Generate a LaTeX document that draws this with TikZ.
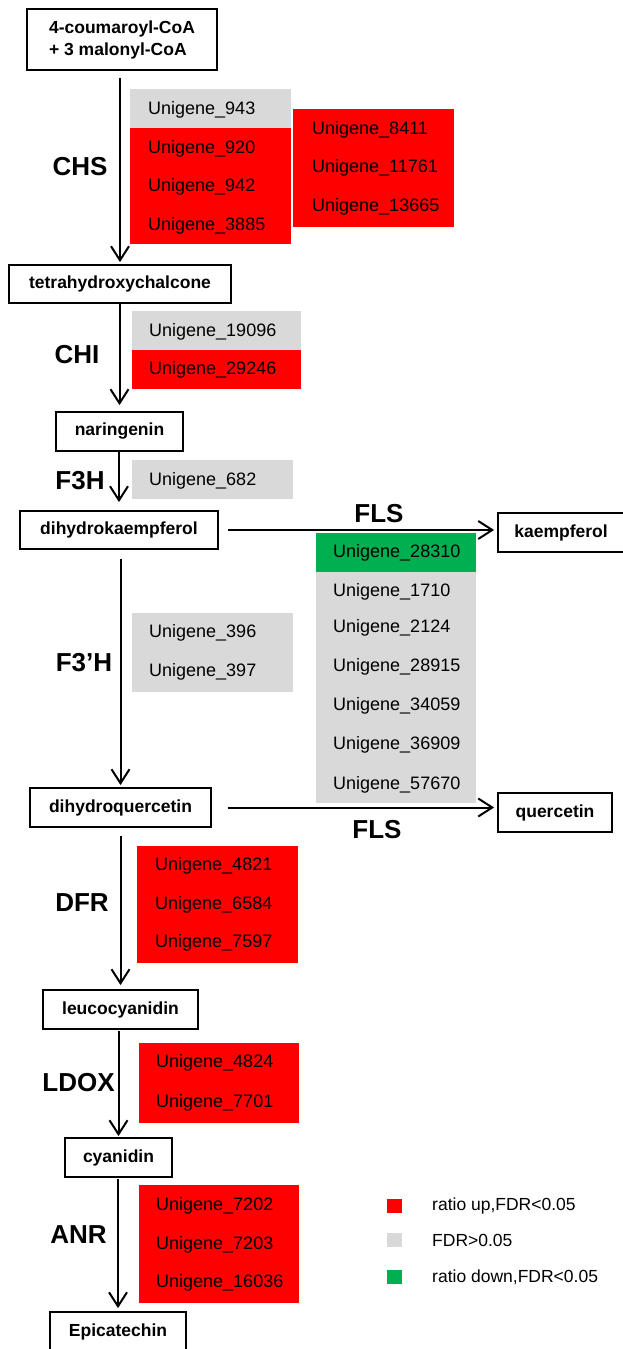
\documentclass[tikz,border=0pt]{standalone}
\usepackage{fontspec}
\setmainfont{Liberation Sans}
\usetikzlibrary{arrows.meta,calc}
\definecolor{upred}{RGB}{255,0,0}
\definecolor{nsgray}{RGB}{217,217,217}
\definecolor{dngreen}{RGB}{0,176,80}
\tikzset{
 met/.style={draw, line width=1.8pt, inner sep=0pt, font=\fontsize{17.5}{22}\selectfont\bfseries},
 enz/.style={font=\fontsize{26}{30}\selectfont\bfseries, inner sep=0pt},
 gene/.style={anchor=west, inner sep=0pt, font=\fontsize{18}{21}\selectfont},
 arr/.style={line width=2pt, -{Straight Barb[length=14pt,width=18pt,line width=2pt]}},
 leg/.style={anchor=west, inner sep=0pt, font=\fontsize{17.5}{21}\selectfont}
}
\begin{document}
\begin{tikzpicture}[x=1pt,y=-1pt]
\useasboundingbox (0,0) rectangle (623,1349);
\clip (0,0) rectangle (623,1349);
% metabolite boxes
\node[met, minimum width=190pt, minimum height=61pt, align=left] (top) at (122,39.5) {4-coumaroyl-CoA\\+ 3 malonyl-CoA};
\node[met, minimum width=222pt, minimum height=38pt] (tetra) at (120,284) {tetrahydroxychalcone};
\node[met, minimum width=127pt, minimum height=39pt] (nar) at (119.5,431.5) {naringenin};
\node[met, minimum width=198pt, minimum height=38pt] (dk) at (119,530) {dihydrokaempferol};
\node[met, minimum width=126pt, minimum height=39pt] (kae) at (561,532.5) {kaempferol};
\node[met, minimum width=181pt, minimum height=39pt] (dq) at (120.5,807.5) {dihydroquercetin};
\node[met, minimum width=114pt, minimum height=39pt] (q) at (555,812.5) {quercetin};
\node[met, minimum width=155pt, minimum height=39pt] (leu) at (120.5,1009.5) {leucocyanidin};
\node[met, minimum width=107pt, minimum height=39pt] (cya) at (118.5,1157.5) {cyanidin};
\node[met, minimum width=136pt, minimum height=40pt] (epi) at (118,1332) {Epicatechin};
% arrows
\draw[arr, shorten <=7pt, shorten >=2pt] (top.south -| tetra.north) -- (tetra.north);
\draw[arr, shorten >=6pt] (tetra.south -| nar.north) -- (nar.north);
\draw[arr, shorten >=8pt] (nar.south -| dk.north) -- (dk.north);
\draw[arr, shorten <=9pt, shorten >=2pt] (dk.south -| dq.north) -- (dq.north);
\draw[arr, shorten <=8pt, shorten >=4pt] (dq.south -| leu.north) -- (leu.north);
\draw[arr, shorten <=1pt, shorten >=1pt] (leu.south -| cya.north) -- (cya.north);
\draw[arr, shorten <=1pt, shorten >=3pt] (cya.south -| epi.north) -- (epi.north);
\draw[arr, shorten <=9pt, shorten >=3pt] (dk.east) -- (dk.east -| kae.west);
\draw[arr, shorten <=16pt, shorten >=3pt] (dq.east) -- (dq.east -| q.west);
% enzyme labels
\node[enz] (chs) at (80,167) {CHS};
\node[enz] (chi) at (77,355) {CHI};
\node[enz] (f3h) at (80,481) {F3H};
\node[enz] (f3ph) at (84,663) {F3’H};
\node[enz] (fls1) at (379,514) {FLS};
\node[enz] (fls2) at (377,830) {FLS};
\node[enz] (dfr) at (82,903) {DFR};
\node[enz] (ldox) at (78.5,1083) {LDOX};
\node[enz] (anr) at (78.5,1235) {ANR};
% gene blocks
\fill[nsgray] (130,89) rectangle (291,128);
\fill[upred] (130,128) rectangle (291,244);
\fill[upred] (293,109) rectangle (454,227);
\fill[nsgray] (132,311) rectangle (301,350);
\fill[upred] (132,350) rectangle (301,389);
\fill[nsgray] (132,460) rectangle (293,499);
\fill[dngreen] (316,533) rectangle (476,572);
\fill[nsgray] (316,572) rectangle (476,803);
\fill[nsgray] (132,613) rectangle (293,692);
\fill[upred] (137,846) rectangle (298,963);
\fill[upred] (139,1043) rectangle (299,1123);
\fill[upred] (139,1185) rectangle (299,1303);
% gene names
\node[gene] (g943) at (148,110) {Unigene\_943};
\node[gene] (g920) at (148,149) {Unigene\_920};
\node[gene] (g942) at (148,187) {Unigene\_942};
\node[gene] (g3885) at (148,226) {Unigene\_3885};
\node[gene] (g8411) at (312,130) {Unigene\_8411};
\node[gene] (g11761) at (312,168) {Unigene\_11761};
\node[gene] (g13665) at (312,207) {Unigene\_13665};
\node[gene] (g19096) at (149,332) {Unigene\_19096};
\node[gene] (g29246) at (149,370) {Unigene\_29246};
\node[gene] (g682) at (149,481) {Unigene\_682};
\node[gene] (g28310) at (333,553) {Unigene\_28310};
\node[gene] (g1710) at (333,592) {Unigene\_1710};
\node[gene] (g2124) at (333,628) {Unigene\_2124};
\node[gene] (g28915) at (333,667) {Unigene\_28915};
\node[gene] (g34059) at (333,706) {Unigene\_34059};
\node[gene] (g36909) at (333,745) {Unigene\_36909};
\node[gene] (g57670) at (333,785) {Unigene\_57670};
\node[gene] (g396) at (149,633) {Unigene\_396};
\node[gene] (g397) at (149,672) {Unigene\_397};
\node[gene] (g4821) at (155,866) {Unigene\_4821};
\node[gene] (g6584) at (155,905) {Unigene\_6584};
\node[gene] (g7597) at (155,943) {Unigene\_7597};
\node[gene] (g4824) at (156,1063) {Unigene\_4824};
\node[gene] (g7701) at (156,1103) {Unigene\_7701};
\node[gene] (g7202) at (156,1206) {Unigene\_7202};
\node[gene] (g7203) at (156,1245) {Unigene\_7203};
\node[gene] (g16036) at (156,1283) {Unigene\_16036};
% legend
\fill[upred] (387,1199) rectangle (402,1213);
\fill[nsgray] (387,1233) rectangle (402,1247);
\fill[dngreen] (387,1270) rectangle (402,1284);
\node[leg] (l1) at (432,1206) {ratio up,FDR<0.05};
\node[leg] (l2) at (432,1240) {FDR>0.05};
\node[leg] (l3) at (432,1277) {ratio down,FDR<0.05};
\end{tikzpicture}
\end{document}
